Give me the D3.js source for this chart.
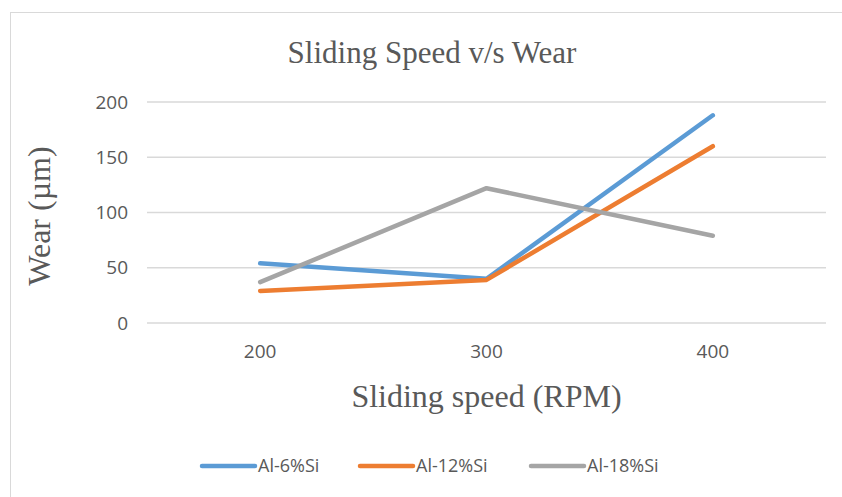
<!DOCTYPE html>
<html>
<head>
<meta charset="utf-8">
<script src="https://cdn.jsdelivr.net/npm/d3@7"></script>
<style>
  body { margin: 0; background: #fff; }
  svg { display: block; }
</style>
</head>
<body>
<svg width="842" height="497"></svg>
<script>
// data
var speeds = ["200", "300", "400"];
var seriesNames = ["Al-6%Si", "Al-12%Si", "Al-18%Si"];
var al6 = [54, 40, 188];
var al12 = [29, 39, 160];
var al18 = [37, 122, 79];
var yTicks = [0, 50, 100, 150, 200];
var colors = ["#5B9BD5", "#ED7D31", "#A5A5A5"];

var series = [al6, al12, al18];

var svg = d3.select("svg"),
    margin = {top: 102, right: 16, bottom: 174, left: 147},
    width = 826 - margin.left,
    height = 323 - margin.top;

var sansFont = "'Open Sans', sans-serif",
    serifFont = "'Liberation Serif', serif";

// chart frame
svg.append("rect")
    .attr("x", 10.5).attr("y", 12.5)
    .attr("width", 840).attr("height", 490)
    .attr("fill", "#fff")
    .attr("stroke", "#d9d9d9");

var x = d3.scaleBand().domain(speeds).range([0, width]),
    y = d3.scaleLinear().domain([0, 200]).range([height, 0]);

var chart = svg.append("g")
    .attr("transform", "translate(" + margin.left + "," + margin.top + ")");

// gridlines
chart.append("g")
    .selectAll("line")
    .data(yTicks)
  .enter().append("line")
    .attr("x1", 0).attr("x2", width)
    .attr("y1", function(d) { return y(d); })
    .attr("y2", function(d) { return y(d); })
    .attr("stroke", "#d9d9d9")
    .attr("stroke-width", 1.3);

// y-axis labels
var yAxis = chart.append("g")
    .call(d3.axisLeft(y).tickValues(yTicks).tickSize(0).tickPadding(19));
yAxis.select(".domain").remove();
yAxis.selectAll("text")
    .attr("fill", "#595959")
    .style("font-family", sansFont)
    .style("font-size", "19px");

// x-axis labels
var xAxis = chart.append("g")
    .attr("transform", "translate(0," + height + ")")
    .call(d3.axisBottom(x).tickSize(0).tickPadding(22));
xAxis.select(".domain").remove();
xAxis.selectAll("text")
    .attr("fill", "#595959")
    .style("font-family", sansFont)
    .style("font-size", "19px");

// lines
var line = d3.line()
    .x(function(d, i) { return x(speeds[i]) + x.bandwidth() / 2; })
    .y(function(d) { return y(d); });

chart.selectAll(".series")
    .data(series)
  .enter().append("path")
    .attr("class", "series")
    .attr("d", line)
    .attr("fill", "none")
    .attr("stroke", function(d, i) { return colors[i]; })
    .attr("stroke-width", 4.5)
    .attr("stroke-linecap", "round")
    .attr("stroke-linejoin", "round");

// titles
svg.append("text")
    .attr("x", 432).attr("y", 63)
    .attr("text-anchor", "middle")
    .attr("fill", "#595959")
    .style("font-family", serifFont)
    .style("font-size", "31px")
    .text("Sliding Speed v/s Wear");

svg.append("text")
    .attr("x", margin.left + width / 2).attr("y", 407)
    .attr("text-anchor", "middle")
    .attr("fill", "#595959")
    .style("font-family", serifFont)
    .style("font-size", "32px")
    .text("Sliding speed (RPM)");

svg.append("text")
    .attr("transform", "translate(50,216) rotate(-90)")
    .attr("text-anchor", "middle")
    .attr("fill", "#595959")
    .style("font-family", serifFont)
    .style("font-size", "32px")
    .text("Wear (\u00b5m)");

// legend
var legendX = [202, 360, 531];
var legend = svg.selectAll(".legend")
    .data(seriesNames)
  .enter().append("g")
    .attr("class", "legend")
    .attr("transform", function(d, i) { return "translate(" + legendX[i] + ",466)"; });

legend.append("line")
    .attr("x1", 0).attr("x2", 53)
    .attr("stroke", function(d, i) { return colors[i]; })
    .attr("stroke-width", 4.5)
    .attr("stroke-linecap", "round");

legend.append("text")
    .attr("x", 56).attr("dy", ".35em")
    .attr("fill", "#595959")
    .style("font-family", sansFont)
    .style("font-size", "18px")
    .text(function(d) { return d; });
</script>
</body>
</html>
